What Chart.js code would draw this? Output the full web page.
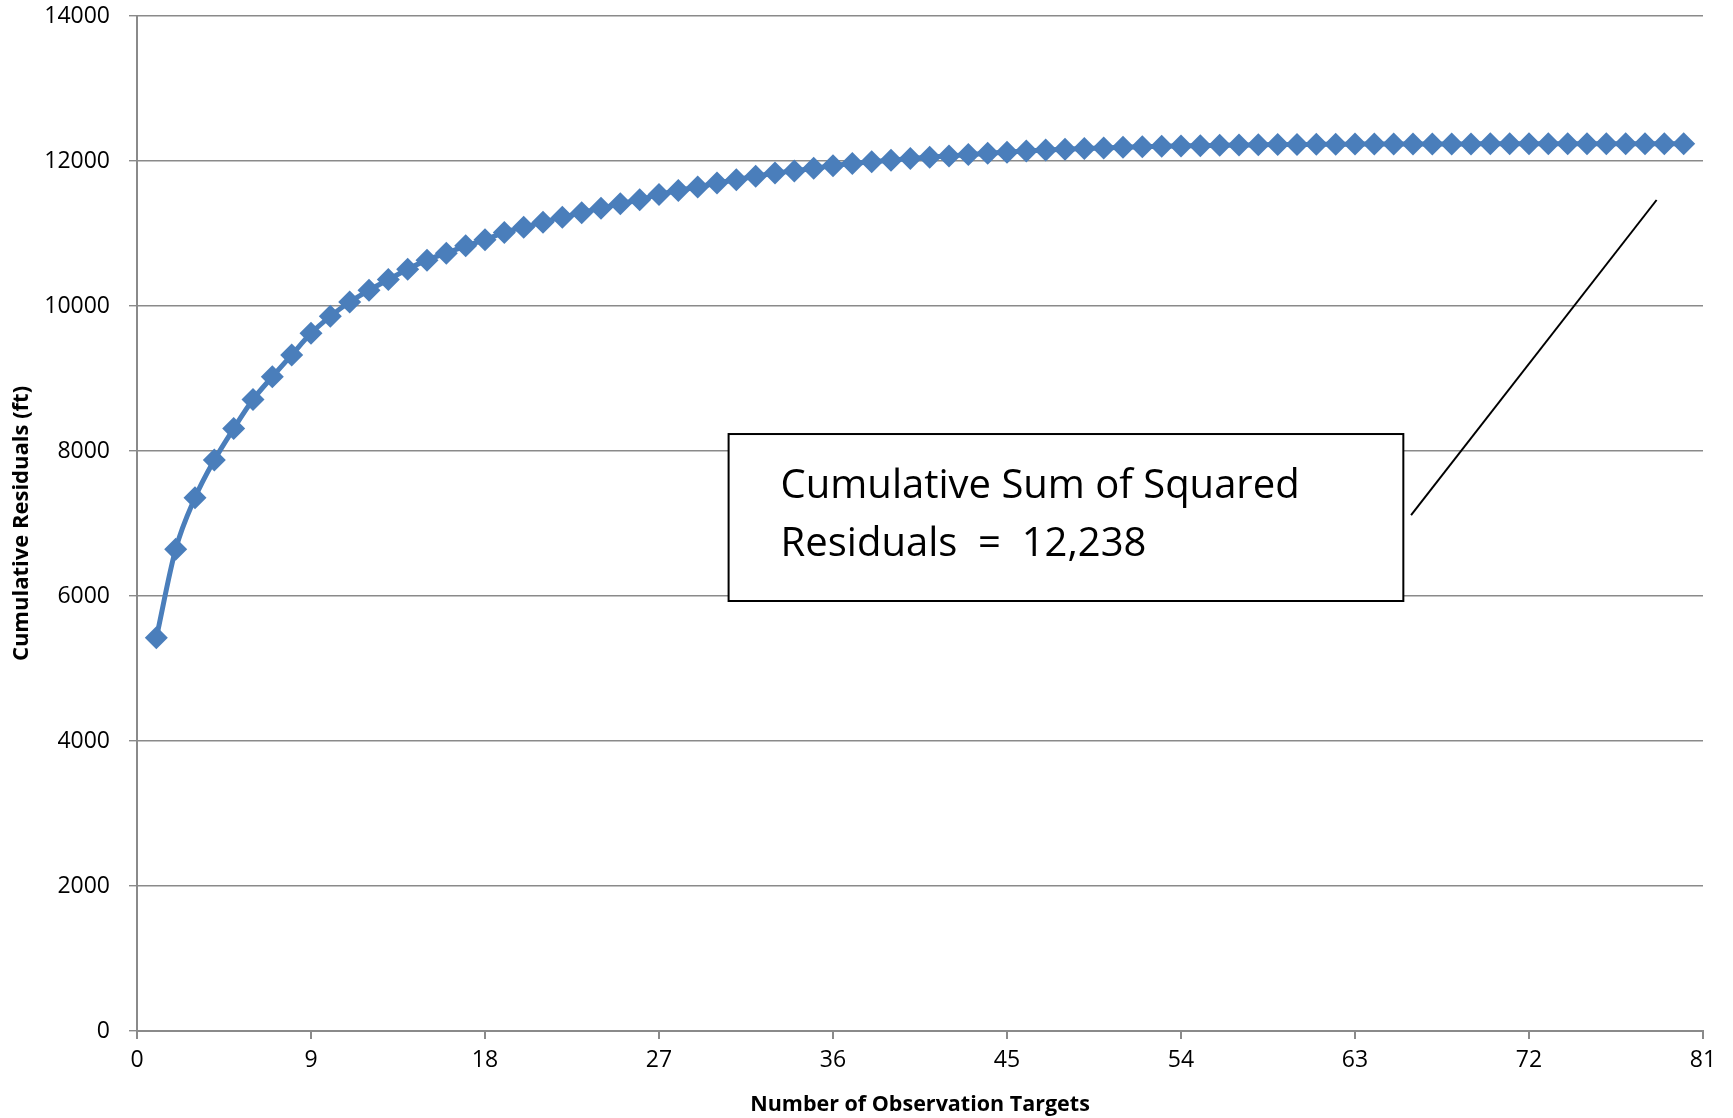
<!DOCTYPE html>
<html>
<head>
<meta charset="utf-8">
<title>Cumulative Residuals</title>
<script src="https://cdn.jsdelivr.net/npm/chart.js@4/dist/chart.umd.min.js"></script>
<style>
  html, body { margin:0; padding:0; background:#fff; }
  #wrap { width:1733px; height:1118px; }
</style>
</head>
<body>
<div id="wrap"><canvas id="c" width="1733" height="1118"></canvas></div>
<script>
// ── data ────────────────────────────────────────────────────────────────────
const targets = Array.from({ length: 80 }, (_, i) => i + 1);
const residuals = [
  5423, 6646, 7356, 7875, 8309, 8710, 9024, 9325, 9624, 9857,
  10055, 10217, 10364, 10508, 10632, 10729, 10830, 10913, 11015, 11087,
  11156, 11225, 11286, 11350, 11410, 11466, 11539, 11594, 11640, 11696,
  11743, 11788, 11834, 11862, 11899, 11936, 11965, 11990, 12012, 12033,
  12052, 12070, 12088, 12106, 12122, 12138, 12151, 12162, 12172, 12181,
  12189, 12196, 12202, 12207, 12212, 12216, 12220, 12223, 12226, 12228,
  12230, 12232, 12233, 12234, 12235, 12235, 12236, 12236, 12236, 12237,
  12237, 12237, 12237, 12237, 12238, 12238, 12238, 12238, 12238, 12238
];
const xTicks = [0, 9, 18, 27, 36, 45, 54, 63, 72, 81];
const yTicks = [0, 2000, 4000, 6000, 8000, 10000, 12000, 14000];
const noteLines = ["Cumulative Sum of Squared", "Residuals  =  12,238"];

const BLUE = "#4a7ebb";
const GRID = "#8a8a8a";
const FONT = "'Open Sans', 'Noto Sans', sans-serif";

// callout box + leader line, placed in data units
const noteBox  = { x0: 30.6, x1: 65.5, y0: 8234, y1: 5931 };
const noteLine = { x0: 65.9, y0: 7117, x1: 78.6, y1: 11462 };

const calloutPlugin = {
  id: "callout",
  afterDatasetsDraw(chart){
    const { ctx, scales:{ x, y } } = chart;
    const bx0 = x.getPixelForValue(noteBox.x0), bx1 = x.getPixelForValue(noteBox.x1);
    const by0 = y.getPixelForValue(noteBox.y0), by1 = y.getPixelForValue(noteBox.y1);
    ctx.save();
    ctx.fillStyle = "#fff";
    ctx.fillRect(bx0, by0, bx1 - bx0, by1 - by0);
    ctx.strokeStyle = "#000"; ctx.lineWidth = 2;
    ctx.strokeRect(bx0, by0, bx1 - bx0, by1 - by0);

    // fit the first line to the width it has in the reference
    ctx.font = `40px ${FONT}`;
    const w = ctx.measureText(noteLines[0]).width;
    const size = Math.min(40, 40 * 540 / w);
    ctx.font = `${size}px ${FONT}`;
    ctx.fillStyle = "#000"; ctx.textBaseline = "middle"; ctx.textAlign = "left";
    const tx = bx0 + 52;
    ctx.fillText(noteLines[0], tx, by0 + 53);
    ctx.fillText(noteLines[1], tx, by0 + 111);

    ctx.beginPath();
    ctx.lineWidth = 2;
    ctx.moveTo(x.getPixelForValue(noteLine.x0), y.getPixelForValue(noteLine.y0));
    ctx.lineTo(x.getPixelForValue(noteLine.x1), y.getPixelForValue(noteLine.y1));
    ctx.stroke();
    ctx.restore();
  }
};

new Chart(document.getElementById("c"), {
  type: "line",
  data: {
    datasets: [{
      data: targets.map((t, i) => ({ x: t, y: residuals[i] })),
      borderColor: BLUE, backgroundColor: BLUE,
      borderWidth: 5,
      pointStyle: "rectRot", pointRadius: 11.5, pointBorderWidth: 0,
      cubicInterpolationMode: "monotone",
    }]
  },
  options: {
    responsive: false, animation: false,
    layout: { padding: { left: 0, top: 16, right: 30, bottom: 0 } },
    plugins: { legend: { display: false }, tooltip: { enabled: false } },
    scales: {
      x: {
        type: "linear", min: 0, max: 81,
        afterBuildTicks: s => { s.ticks = xTicks.map(v => ({ value: v })); },
        afterFit: s => { s.height = 87; },
        grid: { drawOnChartArea: false, drawTicks: true, tickLength: 8, color: GRID, lineWidth: 2 },
        border: { color: GRID, width: 2 },
        ticks: { color: "#000", padding: 8, maxRotation: 0, font: { family: FONT, size: 23 } },
        title: { display: true, text: "Number of Observation Targets", color: "#000",
          font: { family: FONT, size: 21.5, weight: "bold" }, padding: { top: 0, bottom: 0 } },
      },
      y: {
        min: 0, max: 14000,
        afterBuildTicks: s => { s.ticks = yTicks.map(v => ({ value: v })); },
        // label gap pushes the plot top down; keep only the half label height
        afterFit: s => { s.width = 137; s.paddingTop = 14; s.paddingBottom = 14; },
        grid: { color: GRID, lineWidth: 1.4, tickLength: 8 },
        border: { color: GRID, width: 2 },
        ticks: { color: "#000", padding: 19, font: { family: FONT, size: 23 },
          callback: v => String(v) },
        title: { display: true, text: "Cumulative Residuals (ft)", color: "#000",
          font: { family: FONT, size: 22, weight: "bold" }, padding: { top: 9, bottom: 0 } },
      }
    }
  },
  plugins: [calloutPlugin]
});
</script>
</body>
</html>
